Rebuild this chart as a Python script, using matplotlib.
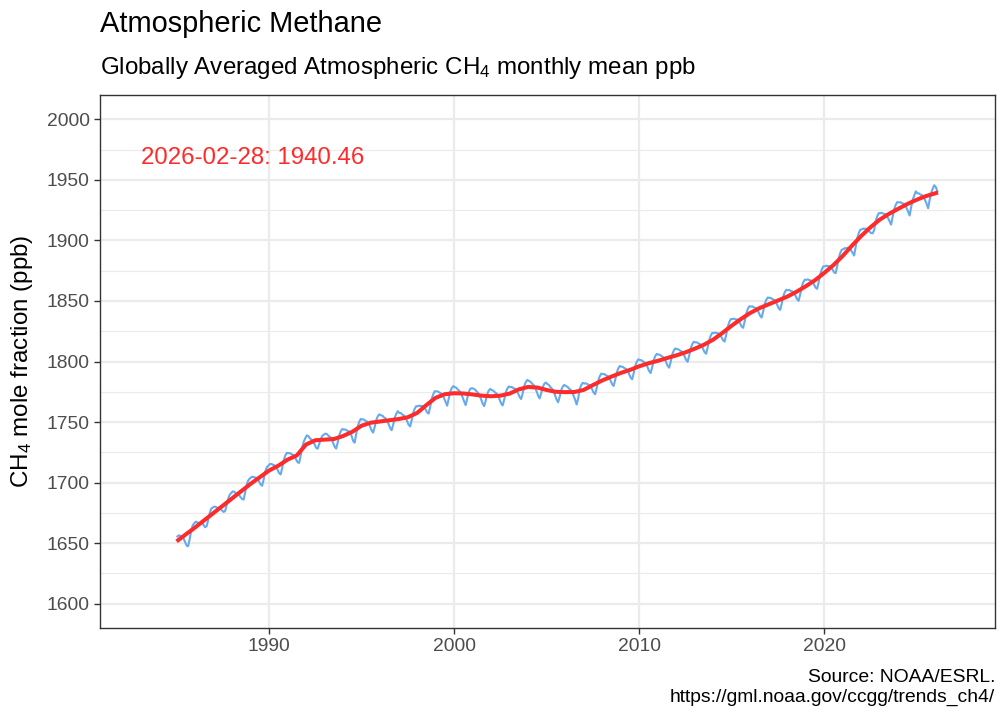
import matplotlib
matplotlib.use("Agg")
import matplotlib.pyplot as plt
import numpy as np

plt.rcParams["font.family"] = ["Liberation Sans", "DejaVu Sans"]
plt.rcParams["mathtext.fontset"] = "custom"
plt.rcParams["mathtext.rm"] = "Liberation Sans"
plt.rcParams["mathtext.it"] = "Liberation Sans:italic"

# NOAA globally averaged monthly CH4 (ppb), Jan 1985 .. Feb 2026
start_year = 1985
ch4_monthly = [
    1655.6, 1656.5, 1656.0, 1655.5, 1654.0, 1651.0, 1648.0, 1647.5, 1653.5, 1660.5, 1664.8, 1666.5,
    1667.8, 1667.2, 1666.5, 1667.0, 1666.8, 1665.0, 1663.2, 1664.0, 1669.5, 1674.8, 1678.6, 1679.4,
    1680.2, 1680.0, 1679.0, 1679.3, 1678.5, 1677.0, 1675.8, 1676.5, 1681.5, 1686.8, 1690.0, 1691.6,
    1692.8, 1692.4, 1691.0, 1691.2, 1690.0, 1688.0, 1686.5, 1686.0, 1692.0, 1698.5, 1701.8, 1703.5,
    1704.5, 1704.9, 1704.3, 1704.2, 1703.1, 1701.0, 1698.5, 1697.4, 1702.8, 1709.2, 1712.6, 1714.0,
    1715.3, 1715.5, 1714.7, 1714.3, 1713.0, 1710.7, 1707.9, 1706.8, 1712.1, 1718.4, 1722.3, 1724.6,
    1724.3, 1724.4, 1723.5, 1723.0, 1721.6, 1719.2, 1716.8, 1716.3, 1722.3, 1729.3, 1733.8, 1736.8,
    1739.0, 1738.4, 1736.5, 1735.5, 1734.1, 1731.7, 1728.8, 1728.0, 1731.8, 1736.0, 1738.6, 1739.5,
    1740.5, 1740.1, 1738.7, 1737.8, 1735.9, 1733.0, 1729.7, 1728.1, 1733.0, 1739.0, 1742.4, 1744.3,
    1743.8, 1743.9, 1743.0, 1742.5, 1741.1, 1738.7, 1734.5, 1733.0, 1740.1, 1746.4, 1750.3, 1752.6,
    1752.2, 1752.1, 1751.0, 1750.5, 1748.9, 1746.3, 1743.1, 1741.3, 1745.9, 1751.6, 1754.8, 1756.4,
    1755.6, 1755.3, 1753.9, 1753.1, 1751.3, 1748.4, 1745.1, 1743.3, 1747.9, 1753.6, 1756.8, 1759.0,
    1757.6, 1757.4, 1756.1, 1755.4, 1753.6, 1750.9, 1747.8, 1746.4, 1751.5, 1757.6, 1761.2, 1763.2,
    1763.0, 1763.6, 1763.2, 1763.3, 1762.4, 1760.5, 1758.0, 1757.0, 1762.5, 1769.0, 1773.0, 1775.5,
    1775.3, 1775.3, 1774.3, 1773.8, 1772.3, 1769.8, 1766.6, 1763.5, 1769.3, 1775.0, 1778.1, 1779.7,
    1778.8, 1778.3, 1776.7, 1775.7, 1773.7, 1770.6, 1767.0, 1764.0, 1769.3, 1774.7, 1777.5, 1777.9,
    1777.7, 1777.0, 1775.4, 1774.2, 1772.0, 1768.9, 1765.3, 1763.2, 1767.6, 1773.1, 1776.0, 1777.4,
    1776.3, 1775.9, 1774.5, 1773.6, 1771.7, 1768.7, 1765.4, 1763.7, 1768.5, 1774.3, 1777.6, 1779.4,
    1778.8, 1778.9, 1778.0, 1777.5, 1776.1, 1773.7, 1770.7, 1769.0, 1773.8, 1779.7, 1783.0, 1784.8,
    1784.0, 1783.4, 1781.8, 1780.7, 1778.6, 1775.5, 1771.8, 1769.5, 1773.7, 1778.8, 1781.5, 1782.7,
    1781.4, 1780.6, 1778.9, 1777.6, 1775.4, 1772.1, 1768.5, 1766.4, 1770.9, 1776.4, 1779.3, 1780.7,
    1779.7, 1779.2, 1777.7, 1776.7, 1774.8, 1771.8, 1768.4, 1764.5, 1769.5, 1777.3, 1780.6, 1782.4,
    1781.8, 1782.0, 1781.2, 1780.8, 1779.5, 1777.2, 1774.3, 1773.0, 1778.1, 1784.2, 1787.8, 1790.0,
    1789.6, 1789.6, 1788.6, 1788.2, 1786.7, 1784.2, 1781.3, 1779.8, 1784.8, 1790.8, 1794.3, 1796.3,
    1795.7, 1795.6, 1794.5, 1794.0, 1792.4, 1789.8, 1786.8, 1785.3, 1790.3, 1796.3, 1799.8, 1801.8,
    1801.2, 1801.1, 1800.0, 1799.5, 1797.9, 1795.3, 1792.2, 1790.5, 1795.3, 1801.2, 1804.5, 1806.3,
    1805.7, 1805.6, 1804.5, 1803.8, 1802.2, 1799.6, 1796.5, 1794.9, 1799.7, 1805.6, 1809.0, 1810.8,
    1810.2, 1810.1, 1809.0, 1808.5, 1806.9, 1804.3, 1801.3, 1799.8, 1804.8, 1810.8, 1814.3, 1816.3,
    1815.8, 1815.8, 1814.9, 1814.4, 1813.0, 1810.5, 1807.7, 1806.4, 1811.6, 1817.7, 1821.4, 1823.6,
    1823.5, 1823.9, 1823.3, 1823.2, 1822.1, 1820.0, 1817.5, 1816.5, 1822.0, 1828.5, 1832.5, 1835.0,
    1835.0, 1835.4, 1834.8, 1834.7, 1833.6, 1831.5, 1828.9, 1827.8, 1833.1, 1839.4, 1843.3, 1845.6,
    1845.3, 1845.5, 1844.7, 1844.3, 1843.0, 1840.7, 1837.8, 1836.3, 1841.3, 1847.4, 1850.9, 1852.9,
    1852.5, 1852.5, 1851.5, 1851.0, 1849.5, 1847.0, 1844.1, 1842.6, 1847.6, 1853.7, 1857.2, 1859.2,
    1858.8, 1859.0, 1858.2, 1857.8, 1856.5, 1854.2, 1851.4, 1850.1, 1855.4, 1861.6, 1865.4, 1867.6,
    1867.4, 1867.8, 1867.1, 1866.9, 1865.8, 1863.6, 1861.0, 1860.0, 1865.5, 1872.0, 1876.0, 1878.5,
    1878.5, 1879.1, 1878.7, 1878.8, 1877.9, 1876.0, 1873.6, 1872.9, 1878.6, 1885.4, 1889.6, 1892.4,
    1892.7, 1893.6, 1893.5, 1894.0, 1893.4, 1891.8, 1889.7, 1887.5, 1894.8, 1901.7, 1906.0, 1908.8,
    1909.1, 1909.8, 1909.5, 1909.7, 1908.9, 1907.1, 1906.0, 1905.8, 1908.5, 1915.9, 1919.9, 1922.5,
    1922.4, 1922.7, 1922.0, 1921.8, 1920.6, 1918.4, 1915.7, 1913.0, 1919.6, 1925.7, 1929.4, 1931.6,
    1931.3, 1931.5, 1930.7, 1930.3, 1929.0, 1926.7, 1923.8, 1920.5, 1927.5, 1933.5, 1937.1, 1940.5,
    1938.8, 1938.8, 1937.8, 1937.3, 1935.8, 1933.3, 1930.2, 1926.5, 1933.5, 1939.3, 1942.7, 1945.5,
    1944.0, 1940.5,
]

# smoothed trend, every half year from 1985.0, plus the final date
trend_values = [
    1651.5, 1657.3, 1663.0, 1669.0, 1675.0, 1681.0, 1687.0, 1693.0, 1699.0, 1704.5,
    1710.0, 1714.0, 1719.0, 1722.5, 1731.5, 1735.0, 1735.5, 1736.0, 1738.5, 1742.0,
    1747.0, 1749.5, 1750.5, 1751.5, 1752.5, 1754.0, 1757.5, 1764.0, 1770.0, 1773.0,
    1773.8, 1773.6, 1772.8, 1771.8, 1771.3, 1771.8, 1773.5, 1777.0, 1779.0, 1778.5,
    1776.5, 1775.0, 1774.7, 1774.8, 1776.5, 1780.5, 1784.3, 1787.5, 1790.5, 1793.0,
    1796.0, 1798.5, 1800.5, 1802.8, 1805.0, 1807.5, 1810.5, 1813.8, 1818.0, 1823.5,
    1829.5, 1835.0, 1840.0, 1844.0, 1847.2, 1850.3, 1853.5, 1857.5, 1862.0, 1867.0,
    1873.0, 1879.5, 1887.0, 1895.5, 1903.5, 1910.7, 1917.0, 1921.8, 1926.0, 1930.0,
    1933.5, 1936.5, 1938.8,
]
trend_end = (2026.16, 1939.6)

last_label = "2026-02-28: 1940.46"

# decimal-year positions
x_month = start_year + (np.arange(len(ch4_monthly)) + 0.5) / 12
x_trend = np.append(start_year + 0.5 * np.arange(len(trend_values)), trend_end[0])
y_trend = np.append(trend_values, trend_end[1])

W, H = 1008, 720
fig = plt.figure(figsize=(W / 100, H / 100), dpi=100)
left, right, top, bottom = 100, 995, 95, 628
ax = fig.add_axes([left / W, 1 - bottom / H, (right - left) / W, (bottom - top) / H])

blue = "#66AAEE"
red = "#FF2A2A"
grid = "#EBEBEB"
dark = "#333333"

ax.plot(x_month, ch4_monthly, color=blue, lw=1.5, zorder=3)
ax.plot(x_trend, y_trend, color=red, lw=2.9, zorder=4, solid_capstyle="butt")

ax.set_xlim(1980.86, 2029.24)
ax.set_ylim(1580, 2020)
ax.set_xticks([1990, 2000, 2010, 2020])
ax.set_yticks(np.arange(1600, 2001, 50))
ax.set_yticks(np.arange(1625, 2000, 50), minor=True)
ax.grid(which="major", color=grid, lw=1.6, zorder=0)
ax.grid(which="minor", axis="y", color=grid, lw=0.8, zorder=0)
ax.set_axisbelow(True)

for s in ax.spines.values():
    s.set_color(dark)
    s.set_linewidth(1.0)
ax.tick_params(which="major", length=4.3, width=1.0, color=dark, labelcolor="#4D4D4D",
               labelsize=13.9, pad=3.2)
ax.tick_params(which="minor", length=0)

ax.text(1983.05, 1962.8, last_label, color=red, fontsize=17.3, ha="left", va="baseline")

fig.text(100 / W, 1 - 32 / H, "Atmospheric Methane", fontsize=20.9, ha="left", va="baseline")
fig.text(100 / W, 1 - 74 / H, "Globally Averaged Atmospheric CH$_4$ monthly mean ppb",
         fontsize=17.4, ha="left", va="baseline")
fig.text(22 / W, 1 - 361.5 / H, "CH$_4$ mole fraction (ppb)", fontsize=17.4, rotation=90,
         ha="center", va="center")
fig.text(995 / W, 1 - 682 / H, "Source: NOAA/ESRL.", fontsize=13.9, ha="right", va="baseline")
fig.text(995 / W, 1 - 702 / H, "https://gml.noaa.gov/ccgg/trends_ch4/", fontsize=13.9,
         ha="right", va="baseline")

fig.savefig("out.png", dpi=100)
